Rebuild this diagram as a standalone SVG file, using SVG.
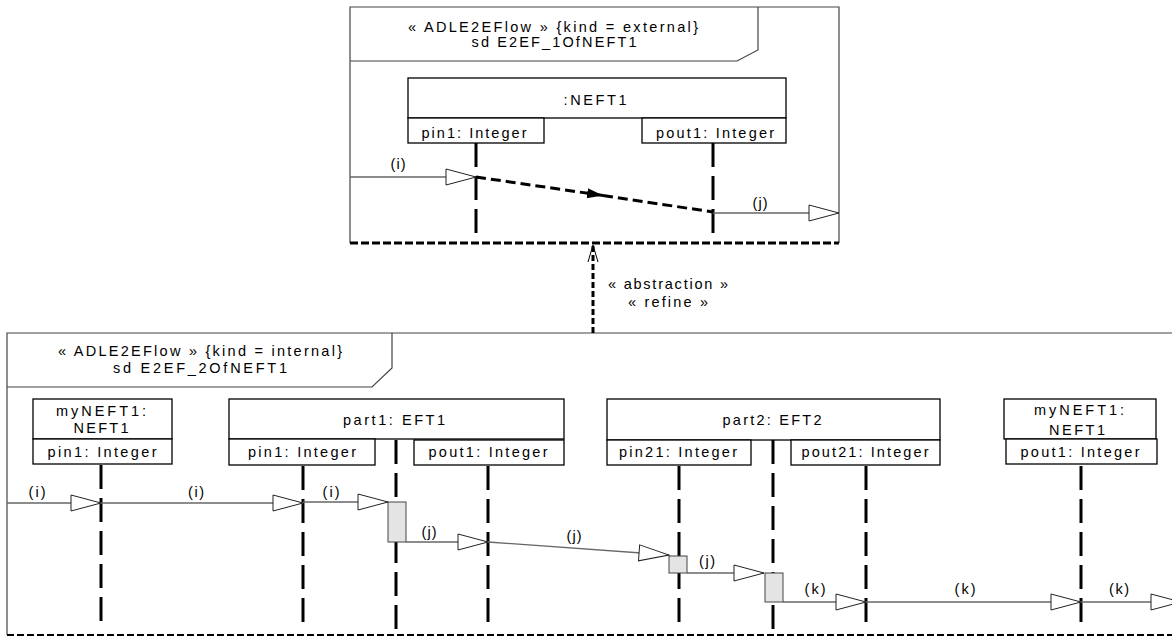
<svg xmlns="http://www.w3.org/2000/svg" width="1172" height="638" viewBox="0 0 1172 638">
<defs>
<marker id="open" markerUnits="userSpaceOnUse" markerWidth="34" markerHeight="20" refX="30" refY="8" orient="auto" viewBox="-2 -2 34 20">
<path d="M0,0 L30,8 L0,16 Z" fill="#fff" stroke="#222" stroke-width="1"/>
</marker>
<marker id="filled" markerUnits="userSpaceOnUse" markerWidth="18" markerHeight="12" refX="16" refY="5" orient="auto" viewBox="0 0 18 12">
<path d="M0,0 L16,5 L0,10 Z" fill="#000"/>
</marker>
</defs>
<style>
text{font-family:"Liberation Sans",Arial,sans-serif;font-size:14.5px;fill:#000;text-anchor:middle}
.frame{fill:none;stroke:#444;stroke-width:1.2}
.box{fill:#fff;stroke:#000;stroke-width:1.3}
.life{fill:none;stroke:#000;stroke-width:3;stroke-dasharray:24 9}
.msg{fill:none;stroke:#666;stroke-width:1.3;marker-end:url(#open)}
.act{fill:#e4e4e4;stroke:#444;stroke-width:1}
</style>
<rect width="1172" height="638" fill="#fff"/>

<g id="frame-external">
<path class="frame" d="M350,243 L350,7 L839,7 L839,243"/>
<line x1="350" y1="243" x2="839" y2="243" stroke="#000" stroke-width="3" stroke-dasharray="8 3"/>
<path class="frame" d="M350,61 L737,61 L758,50 L758,7"/>
<text x="553" y="32" textLength="290" lengthAdjust="spacing">« ADLE2EFlow » {kind = external}</text>
<text x="554" y="47" textLength="165" lengthAdjust="spacing">sd E2EF_1OfNEFT1</text>
</g>

<g id="node-neft1-top">
<rect class="box" x="408" y="78" width="378" height="40"/>
<text x="595" y="105" textLength="63" lengthAdjust="spacing">:NEFT1</text>
<rect class="box" x="408" y="118" width="136" height="25"/>
<text x="474" y="137.5" textLength="105" lengthAdjust="spacing">pin1: Integer</text>
<rect class="box" x="642" y="118" width="144" height="25"/>
<text x="715" y="137.5" textLength="118" lengthAdjust="spacing">pout1: Integer</text>
<line class="life" x1="476" y1="143" x2="476" y2="241" stroke-dasharray="26 6"/>
<line class="life" x1="713" y1="143" x2="713" y2="241" stroke-dasharray="26 6"/>
</g>

<g id="frame-internal">
<path class="frame" d="M1172,333 L7,333 L7,635"/>
<line x1="7" y1="635" x2="1172" y2="635" stroke="#000" stroke-width="2" stroke-dasharray="7 3"/>
<path class="frame" d="M7,387 L372,387 L392,368 L392,333"/>
<text x="200" y="356" textLength="284" lengthAdjust="spacing">« ADLE2EFlow » {kind = internal}</text>
<text x="200" y="373" textLength="174" lengthAdjust="spacing">sd E2EF_2OfNEFT1</text>
</g>

<g id="node-myneft1-left">
<rect class="box" x="33" y="399" width="139" height="40"/>
<text x="101" y="416" textLength="90" lengthAdjust="spacing">myNEFT1:</text>
<text x="101" y="433" textLength="55" lengthAdjust="spacing">NEFT1</text>
<rect class="box" x="33" y="439" width="139" height="25"/>
<text x="102" y="457" textLength="109" lengthAdjust="spacing">pin1: Integer</text>
<line class="life" x1="101" y1="465" x2="101" y2="630"/>
</g>

<g id="node-part1">
<rect class="box" x="229" y="399" width="335" height="40"/>
<text x="394" y="425" textLength="102" lengthAdjust="spacing">part1: EFT1</text>
<rect class="box" x="229" y="439" width="146" height="26"/>
<text x="302" y="457" textLength="108" lengthAdjust="spacing">pin1: Integer</text>
<rect class="box" x="414" y="440" width="150" height="25"/>
<text x="488" y="457" textLength="119" lengthAdjust="spacing">pout1: Integer</text>
<line class="life" x1="303" y1="466" x2="303" y2="630"/>
<line class="life" x1="396" y1="440" x2="396" y2="630"/>
<line class="life" x1="488" y1="466" x2="488" y2="630"/>
</g>

<g id="node-part2">
<rect class="box" x="607" y="399" width="333" height="41"/>
<text x="772" y="425" textLength="99" lengthAdjust="spacing">part2: EFT2</text>
<rect class="box" x="607" y="440" width="144" height="25"/>
<text x="678" y="457" textLength="118" lengthAdjust="spacing">pin21: Integer</text>
<rect class="box" x="791" y="440" width="149" height="25"/>
<text x="865" y="457" textLength="127" lengthAdjust="spacing">pout21: Integer</text>
<line class="life" x1="679" y1="466" x2="679" y2="630"/>
<line class="life" x1="773" y1="440" x2="773" y2="630"/>
<line class="life" x1="866" y1="466" x2="866" y2="630"/>
</g>

<g id="node-myneft1-right">
<rect class="box" x="1004" y="399" width="152" height="40"/>
<text x="1079" y="415" textLength="90" lengthAdjust="spacing">myNEFT1:</text>
<text x="1077" y="435" textLength="56" lengthAdjust="spacing">NEFT1</text>
<rect class="box" x="1006" y="439" width="151" height="25"/>
<text x="1080" y="457" textLength="119" lengthAdjust="spacing">pout1: Integer</text>
<line class="life" x1="1081" y1="466" x2="1081" y2="630"/>
</g>

<g id="activations">
<rect class="act" x="388" y="502" width="18" height="40"/>
<rect class="act" x="669" y="556" width="18" height="17"/>
<rect class="act" x="765" y="573" width="18" height="29"/>
</g>

<g id="connectors">
<line class="msg" x1="350" y1="177" x2="476" y2="177"/>
<text x="398" y="169" textLength="15" lengthAdjust="spacing">(i)</text>
<line x1="476" y1="177" x2="603" y2="195.5" stroke="#000" stroke-width="3" stroke-dasharray="10 5" marker-end="url(#filled)"/>
<line x1="603" y1="195.5" x2="713" y2="212" stroke="#000" stroke-width="3" stroke-dasharray="10 5"/>
<line class="msg" x1="713" y1="213" x2="839" y2="213"/>
<text x="760" y="208" textLength="15" lengthAdjust="spacing">(j)</text>

<line x1="593" y1="333" x2="593" y2="246" stroke="#000" stroke-width="3" stroke-dasharray="6 3"/>
<path d="M588,262 L593,245 L598,262" fill="none" stroke="#000" stroke-width="1"/>
<text x="668" y="289" textLength="120" lengthAdjust="spacing">« abstraction »</text>
<text x="668" y="307" textLength="80" lengthAdjust="spacing">« refine »</text>

<line class="msg" x1="7" y1="503" x2="101" y2="503"/>
<text x="37" y="497" textLength="17" lengthAdjust="spacing">(i)</text>
<line class="msg" x1="101" y1="503" x2="303" y2="503"/>
<text x="196" y="497" textLength="16" lengthAdjust="spacing">(i)</text>
<line class="msg" x1="303" y1="502" x2="388" y2="502"/>
<text x="331" y="497" textLength="17" lengthAdjust="spacing">(i)</text>
<line class="msg" x1="406" y1="542" x2="488" y2="542"/>
<text x="429" y="537" textLength="15" lengthAdjust="spacing">(j)</text>
<line class="msg" x1="488" y1="542" x2="669" y2="555"/>
<text x="574" y="541" textLength="15" lengthAdjust="spacing">(j)</text>
<line class="msg" x1="687" y1="573" x2="764" y2="573"/>
<text x="707" y="566" textLength="16" lengthAdjust="spacing">(j)</text>
<line class="msg" x1="783" y1="602" x2="866" y2="602"/>
<text x="815" y="594" textLength="21" lengthAdjust="spacing">(k)</text>
<line class="msg" x1="866" y1="602" x2="1081" y2="602"/>
<text x="965" y="594" textLength="21" lengthAdjust="spacing">(k)</text>
<line class="msg" x1="1081" y1="602" x2="1181" y2="602"/>
<text x="1119" y="594" textLength="20" lengthAdjust="spacing">(k)</text>
</g>
</svg>
